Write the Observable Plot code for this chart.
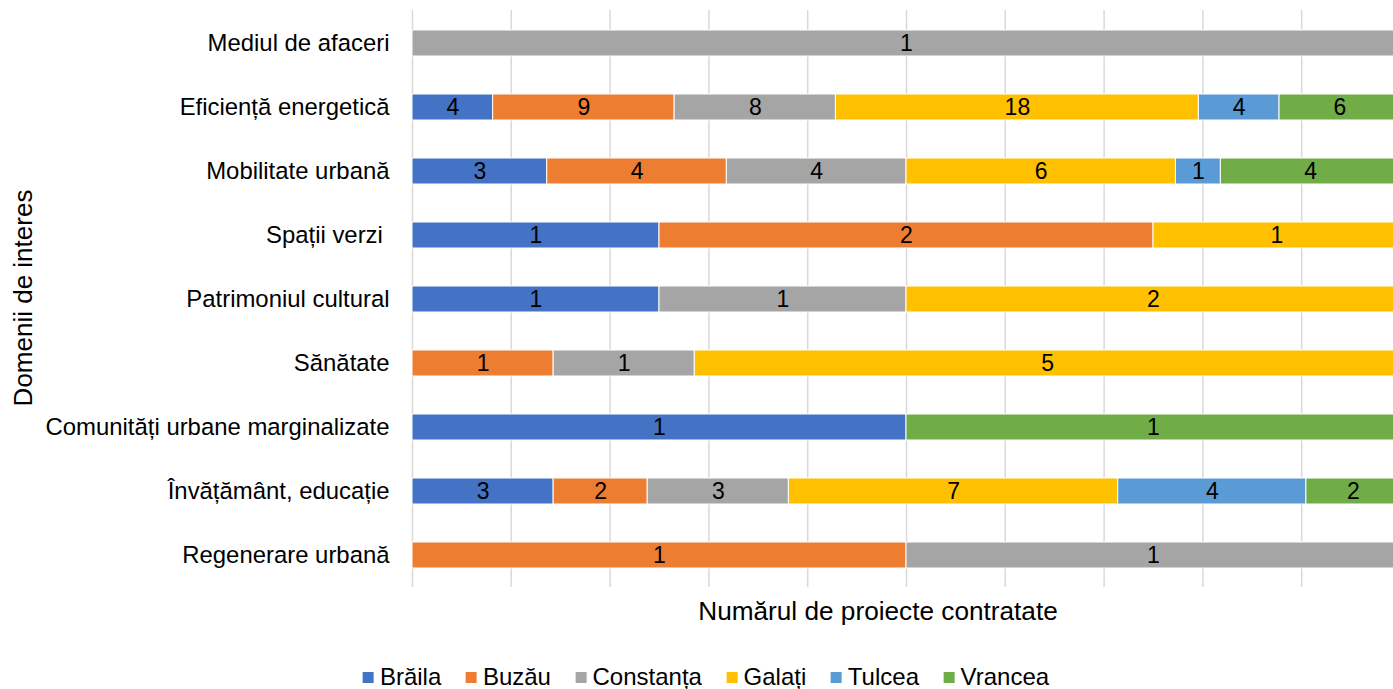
<!DOCTYPE html>
<html>
<head>
<meta charset="utf-8">
<script src="https://cdn.jsdelivr.net/npm/d3@7"></script>
<script src="https://cdn.jsdelivr.net/npm/@observablehq/plot@0.6"></script>
<style>
  html, body { margin: 0; padding: 0; background: #fff; overflow: hidden; }
  #wrap { position: relative; width: 1393px; height: 689px; overflow: hidden; font-family: "Liberation Sans", Arial, sans-serif; color: #000; }
  #chart svg { overflow: hidden !important; display: block; }
  #chart svg text { white-space: pre; }
  .ytitle { position: absolute; left: 23px; top: 298px; transform: translate(-50%, -50%) rotate(-90deg); font-size: 26px; line-height: 1; white-space: nowrap; }
  .xtitle { position: absolute; left: 878px; top: 598px; transform: translateX(-50%); font-size: 26.2px; line-height: 1; white-space: nowrap; }
  .legend { position: absolute; left: 706px; top: 665px; transform: translateX(-50%); display: flex; font-size: 24px; line-height: 1; white-space: nowrap; }
  .legend .item { display: flex; align-items: center; margin: 0 12.3px; }
  .legend .sw { width: 11px; height: 11px; margin-right: 6px; }
</style>
</head>
<body>
<div id="wrap">
  <div id="chart"></div>
  <div class="ytitle">Domenii de interes</div>
  <div class="xtitle">Numărul de proiecte contratate</div>
  <div class="legend" id="legend"></div>
</div>
<script>
const categories = ["Mediul de afaceri", "Eficiență energetică", "Mobilitate urbană", "Spații verzi ", "Patrimoniul cultural", "Sănătate", "Comunități urbane marginalizate", "Învățământ, educație", "Regenerare urbană"];
const counties = ["Brăila", "Buzău", "Constanța", "Galați", "Tulcea", "Vrancea"];
const colors = ["#4472C4", "#ED7D31", "#A5A5A5", "#FFC000", "#5B9BD5", "#70AD47"];

const braila    = [0, 4, 3, 1, 1, 0, 1, 3, 0];
const buzau     = [0, 9, 4, 2, 0, 1, 0, 2, 1];
const constanta = [1, 8, 4, 0, 1, 1, 0, 3, 1];
const galati    = [0, 18, 6, 1, 2, 5, 0, 7, 0];
const tulcea    = [0, 4, 1, 0, 0, 0, 0, 4, 0];
const vrancea   = [0, 6, 4, 0, 0, 0, 1, 2, 0];
const gridTicks = [0, 0.1, 0.2, 0.3, 0.4, 0.5, 0.6, 0.7, 0.8, 0.9, 1];

const series = [braila, buzau, constanta, galati, tulcea, vrancea];
const data = [];
categories.forEach((c, i) => {
  counties.forEach((k, j) => {
    const v = series[j][i];
    if (v > 0) data.push({domain: c, county: k, value: v});
  });
});

const stackOpts = {x: "value", y: "domain", offset: "normalize", order: null};

const plot = Plot.plot({
  width: 1393,
  height: 600,
  marginLeft: 412,
  marginRight: 0,
  marginTop: 10,
  marginBottom: 13,
  style: {fontFamily: "'Liberation Sans', Arial, sans-serif", background: "#fff", overflow: "hidden"},
  x: {domain: [0, 1], range: [412, 1400], axis: null},
  y: {domain: categories, paddingInner: 0.594, paddingOuter: 0.297, label: null},
  color: {domain: counties, range: colors},
  marks: [
    Plot.ruleX(gridTicks, {stroke: "#d9d9d9", strokeWidth: 1.5}),
    Plot.barX(data, Plot.stackX({...stackOpts, fill: "county", stroke: "#fff", strokeWidth: 1})),
    Plot.text(data, Plot.stackX({...stackOpts, text: d => String(d.value), fill: "#000", fontSize: 23})),
    Plot.axisY({tickSize: 0, tickPadding: 23, fontSize: 23.9, fill: "#000", label: null})
  ]
});
document.getElementById("chart").appendChild(plot);

const legend = document.getElementById("legend");
counties.forEach((k, j) => {
  const item = document.createElement("div");
  item.className = "item";
  const sw = document.createElement("span");
  sw.className = "sw";
  sw.style.background = colors[j];
  const t = document.createElement("span");
  t.textContent = k;
  item.appendChild(sw);
  item.appendChild(t);
  legend.appendChild(item);
});
</script>
</body>
</html>
